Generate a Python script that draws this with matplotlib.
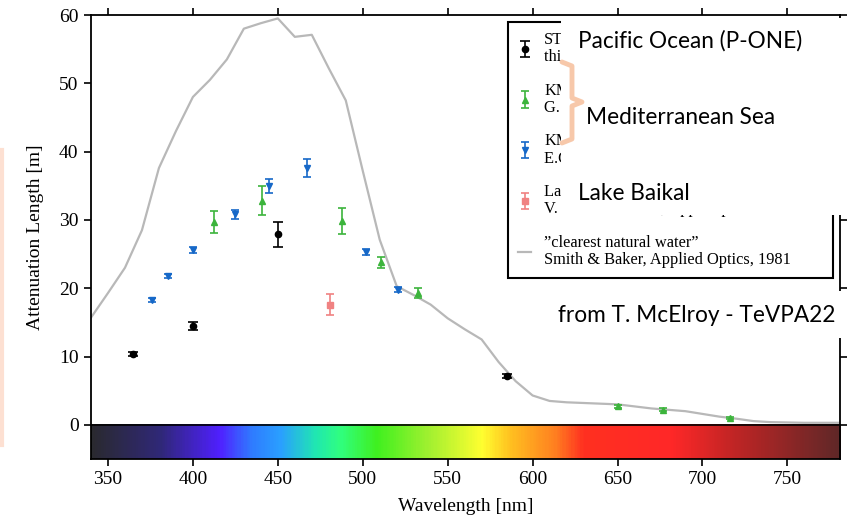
import numpy as np
import matplotlib
matplotlib.use("Agg")
import matplotlib.pyplot as plt
from matplotlib.colors import LinearSegmentedColormap, Normalize
from matplotlib.patches import Rectangle
from matplotlib.lines import Line2D

# "clearest natural water", Smith & Baker 1981
sb_wl = [340, 350, 360, 370, 380, 390, 400, 410, 420, 430, 440, 450, 460, 470,
         480, 490, 500, 510, 520, 530, 540, 550, 560, 570, 580, 590, 600, 610,
         620, 630, 640, 650, 660, 670, 680, 690, 700, 710, 720, 730, 740, 750,
         760, 770, 780]
sb_len = [15.7, 19.3, 23.0, 28.5, 37.6, 43.0, 48.0, 50.5, 53.5, 58.0, 58.8, 59.5,
          56.8, 57.1, 52.2, 47.5, 37.2, 27.1, 20.3, 19.0, 17.6, 15.6, 14.0, 12.5,
          9.2, 6.4, 4.3, 3.5, 3.3, 3.2, 3.1, 3.0, 2.7, 2.4, 2.2, 2.0, 1.6, 1.2,
          0.9, 0.55, 0.4, 0.35, 0.3, 0.3, 0.3]

# STRAW (P-ONE), this work
straw_wl = [365, 400, 450, 585]
straw_len = [10.4, 14.45, 27.9, 7.1]
straw_err = [0.3, 0.55, 1.8, 0.3]

# KM3NeT, G. Riccobene et al.
kmg_wl = [412.5, 440.5, 488, 510.5, 532.5, 650.5, 676.5, 716]
kmg_len = [29.7, 32.8, 29.8, 23.8, 19.3, 2.7, 2.2, 1.0]
kmg_err = [1.6, 2.1, 1.9, 0.8, 0.7, 0.2, 0.2, 0.2]

# KM3NeT, E.G. Anassontzis et al.
kme_wl = [376, 385.5, 400, 425, 445, 467, 502, 520.5]
kme_len = [18.3, 21.8, 25.6, 30.8, 35.0, 37.6, 25.3, 19.8]
kme_err = [0.3, 0.3, 0.5, 0.7, 1.0, 1.3, 0.4, 0.4]

# Lake Baikal
baikal_wl = [480.5]
baikal_len = [17.6]
baikal_err = [1.5]

labels = ["STRAW\nthis work",
          "KM3NeT\nG. Riccobene et al., Astropart. Phys.",
          "KM3NeT\nE.G. Anassontzis et al., NIM A",
          "Lake Baikal\nV. Balkanov et al., Appl. Opt.",
          "\u201dclearest natural water\u201d\nSmith & Baker, Applied Optics, 1981"]

notes = ["Pacific Ocean (P-ONE)", "Mediterranean Sea", "Lake Baikal",
         "from T. McElroy - TeVPA22"]

# colour strip under the axis
spec_stops = [(340, "#2a2a30"), (380, "#302878"), (415, "#5020ff"),
              (434, "#2f7cff"), (451, "#2aa0ff"), (472, "#20e8b0"),
              (486, "#30ff80"), (508, "#40f020"), (538, "#a0f030"),
              (570, "#ffff30"), (587, "#ffc020"), (613, "#ff8020"),
              (630, "#ff3020"), (682, "#ff2828"), (719, "#c02525"),
              (781, "#602828")]

plt.rcParams["font.family"] = ["Liberation Serif", "DejaVu Serif"]

fig = plt.figure(figsize=(8.55, 5.18), dpi=100)
W, H = 855, 518
ax = fig.add_axes([91 / W, 1 - 459 / H, 749 / W, 444 / H])

lo, hi = 340, 781
spec_cmap = LinearSegmentedColormap.from_list(
    "spec", [((w - lo) / (hi - lo), c) for w, c in spec_stops])
grad = np.linspace(lo, hi, 600)[None, :]
ax.imshow(grad, extent=[lo, hi, -5, 0], aspect="auto", cmap=spec_cmap,
          norm=Normalize(lo, hi), zorder=0, interpolation="bilinear")
ax.axhline(0, color="black", lw=1.2, zorder=1)

sb_line, = ax.plot(sb_wl, sb_len, color="#b8b8b8", lw=1.6, zorder=2)

eb_kw = dict(linestyle="none", elinewidth=1.2, capthick=1.2, zorder=3)
h1 = ax.errorbar(straw_wl, straw_len, yerr=straw_err, fmt="o", color="black",
                 ms=4.5, capsize=3.5, **eb_kw)
h2 = ax.errorbar(kmg_wl, kmg_len, yerr=kmg_err, fmt="^", color="#3cb43c",
                 ms=5, capsize=3, **eb_kw)
h3 = ax.errorbar(kme_wl, kme_len, yerr=kme_err, fmt="v", color="#1668c8",
                 ms=5, capsize=3, **eb_kw)
h4 = ax.errorbar(baikal_wl, baikal_len, yerr=baikal_err, fmt="s",
                 color="#f08282", ms=4.5, capsize=3, **eb_kw)

ax.set_xlim(lo, hi)
ax.set_ylim(-5, 60)
ax.set_xticks([350, 400, 450, 500, 550, 600, 650, 700, 750])
ax.set_yticks([0, 10, 20, 30, 40, 50, 60])
ax.tick_params(direction="out", length=5, width=1.2, labelsize=14,
               top=True, right=True, pad=4)
for s in ax.spines.values():
    s.set_linewidth(1.3)
ax.set_xlabel("Wavelength [nm]", fontsize=14, labelpad=7)
ax.set_ylabel("Attenuation Length [m]", fontsize=14, labelpad=11)

leg = ax.legend([h1, h2, h3, h4, sb_line], labels, loc="upper left",
                bbox_to_anchor=(0.557, 0.0, 0.434, 0.984), mode="expand",
                borderaxespad=0, fontsize=11.8, handlelength=0.8,
                handletextpad=0.8, borderpad=0.6, labelspacing=1.05,
                fancybox=False, framealpha=1, edgecolor="black")
leg.get_frame().set_linewidth(1.5)
for t in leg.get_texts():
    t.set_linespacing(1.12)

# white cover boxes pasted on top of the plot
fig.add_artist(Rectangle((561 / W, 1 - 215 / H), (W - 561) / W, 197 / H,
                         transform=fig.transFigure, facecolor="white",
                         edgecolor="none", zorder=10))
fig.add_artist(Rectangle((545 / W, 1 - 338 / H), (W - 545) / W, 47 / H,
                         transform=fig.transFigure, facecolor="white",
                         edgecolor="none", zorder=10))

note_pos = [(578, 41), (586, 118), (578, 193), (558, 316)]
for txt, (px, py) in zip(notes, note_pos):
    fig.text(px / W, 1 - py / H, txt, fontfamily="Lato", fontsize=16.3,
             ha="left", va="center", color="black", zorder=11)

# orange brace
bx = [562, 572, 572, 582, 572, 572, 562]
by = [62, 66, 98, 102, 106, 139, 143]
fig.add_artist(Line2D([x / W for x in bx], [1 - y / H for y in by],
                      transform=fig.transFigure, color="#f7c8aa", lw=3.5,
                      solid_joinstyle="round", solid_capstyle="round",
                      zorder=11))
# faint edge of slide box on the left
fig.add_artist(Line2D([2 / W, 2 / W], [1 - 150 / H, 1 - 445 / H],
                      transform=fig.transFigure, color="#fde0d2", lw=3,
                      zorder=11))

fig.savefig("out.png", dpi=100)
